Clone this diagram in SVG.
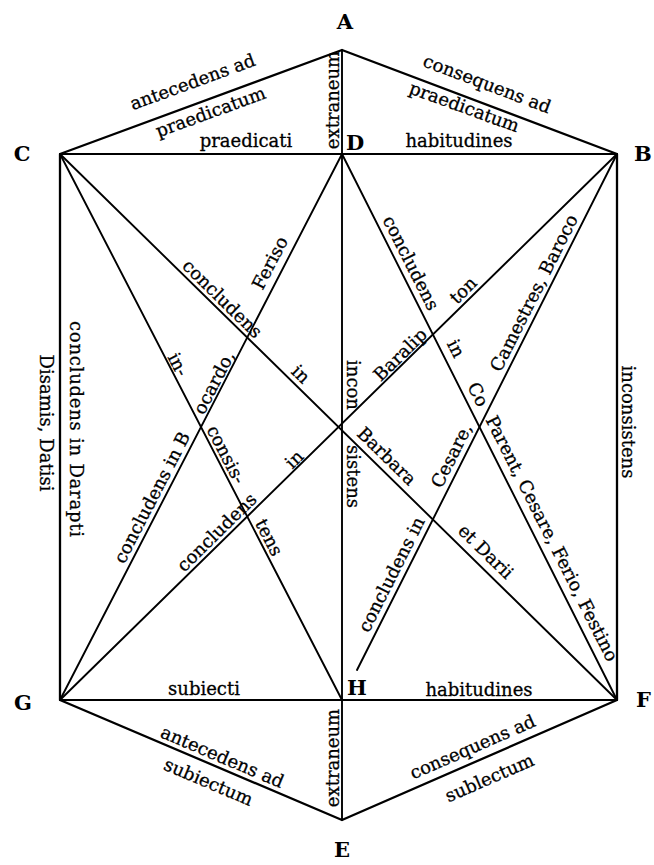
<svg xmlns="http://www.w3.org/2000/svg" width="654" height="865" viewBox="0 0 654 865">
<style>
.ln{stroke:#000;stroke-width:1.9;fill:none;stroke-linecap:round}
.ol{stroke:#000;stroke-width:2.3;fill:none;stroke-linejoin:round}
.t{font-family:"DejaVu Serif","Liberation Serif",serif;font-size:18px;fill:#000;stroke:#000;stroke-width:0.3;text-anchor:middle}
.v{font-family:"DejaVu Serif","Liberation Serif",serif;font-size:21px;font-weight:bold;fill:#000;text-anchor:middle}
.vs{font-family:"DejaVu Serif","Liberation Serif",serif;font-size:21px;font-weight:bold;fill:#000;text-anchor:start}
</style>
<rect width="654" height="865" fill="#fff"/>
<g id="connectors">
<path class="ol" d="M60,154 L342,50 L617,154 L617,700 L342,820 L60,700 Z"/>
<line class="ln" x1="60" y1="154" x2="617" y2="154"/>
<line class="ln" x1="60" y1="700" x2="617" y2="700"/>
<line class="ln" x1="342" y1="50" x2="342" y2="154"/>
<line class="ln" x1="342" y1="700" x2="342" y2="820"/>
<line class="ln" x1="342" y1="154" x2="342" y2="700"/>
<line class="ln" x1="60" y1="154" x2="617" y2="700"/>
<line class="ln" x1="617" y1="154" x2="60" y2="700"/>
<line class="ln" x1="60" y1="154" x2="342" y2="700"/>
<line class="ln" x1="342" y1="154" x2="60" y2="700"/>
<line class="ln" x1="342" y1="154" x2="617" y2="700"/>
<line class="ln" x1="617" y1="154" x2="357" y2="670"/>
</g>
<g id="edge-labels">
<text class="t" transform="translate(194.7,87.7) rotate(-20)">antecedens ad</text>
<text class="t" transform="translate(212.7,117.7) rotate(-20)">praedicatum</text>
<text class="t" x="246" y="147">praedicati</text>
<text class="t" transform="translate(338.5,100) rotate(-90)">extraneum</text>
<text class="t" transform="translate(485,89.7) rotate(20.7)">consequens ad</text>
<text class="t" transform="translate(462.2,112.7) rotate(20)">praedicatum</text>
<text class="t" x="459" y="147">habitudines</text>
<text class="t" x="204" y="695">subiecti</text>
<text class="t" x="479" y="696">habitudines</text>
<text class="t" transform="translate(220,762.6) rotate(23)">antecedens ad</text>
<text class="t" transform="translate(206,787.6) rotate(23)">subiectum</text>
<text class="t" transform="translate(338.5,758) rotate(-90)">extraneum</text>
<text class="t" transform="translate(475,752.6) rotate(-23.6)">consequens ad</text>
<text class="t" transform="translate(492,783.6) rotate(-23.6)">sublectum</text>
<text class="t" transform="translate(70,429) rotate(90)" textLength="216" lengthAdjust="spacing">concludens in Darapti</text>
<text class="t" transform="translate(40,423) rotate(90)">Disamis, Datisi</text>
<text class="t" transform="translate(622,422) rotate(90)">inconsistens</text>
<text class="t" transform="translate(347,385) rotate(90)">incon</text>
<text class="t" transform="translate(347,476.5) rotate(90)">sistens</text>
<text class="t" transform="translate(172.6,367.3) rotate(62.68)">in-</text>
<text class="t" transform="translate(220.6,457.3) rotate(62.68)">consis-</text>
<text class="t" transform="translate(263.6,540.3) rotate(62.68)">tens</text>
<text class="t" transform="translate(157.4,500.3) rotate(-62.68)">concludens in B</text>
<text class="t" transform="translate(219.4,385.3) rotate(-62.68)">ocardo,</text>
<text class="t" transform="translate(275.4,265.8) rotate(-62.68)">Feriso</text>
<text class="t" transform="translate(218,303.1) rotate(44.43)">concludens</text>
<text class="t" transform="translate(296.5,378.6) rotate(44.43)">in</text>
<text class="t" transform="translate(382.5,460.6) rotate(44.43)">Barbara</text>
<text class="t" transform="translate(481.5,556) rotate(44.43)">et Darii</text>
<text class="t" transform="translate(221,536.6) rotate(-44.43)">concludens</text>
<text class="t" transform="translate(298.5,463.6) rotate(-44.43)">in</text>
<text class="t" transform="translate(404.5,359) rotate(-44.43)">Baralip</text>
<text class="t" transform="translate(467.5,294.6) rotate(-44.43)">ton</text>
<text class="t" transform="translate(405.5,265.75) rotate(63.27)">concludens</text>
<text class="t" transform="translate(450.5,351.25) rotate(63.27)">in</text>
<text class="t" transform="translate(472.5,397.25) rotate(63.27)">Co</text>
<text class="t" transform="translate(546.5,541.25) rotate(63.27)">Parent, Cesare, Ferio, Festino</text>
<text class="t" transform="translate(397,577.25) rotate(-63.27)">concludens in</text>
<text class="t" transform="translate(457,458.25) rotate(-63.27)">Cesare,</text>
<text class="t" transform="translate(539.5,295.75) rotate(-63.27)">Camestres, Baroco</text>
</g>
<g id="node-A"><text class="v" x="345" y="29">A</text></g>
<g id="node-B"><text class="vs" x="634" y="161">B</text></g>
<g id="node-C"><text class="v" x="22" y="161">C</text></g>
<g id="node-D"><text class="v" x="355" y="150">D</text></g>
<g id="node-E"><text class="v" x="342" y="857">E</text></g>
<g id="node-F"><text class="vs" x="636" y="707">F</text></g>
<g id="node-G"><text class="v" x="23" y="710">G</text></g>
<g id="node-H"><text class="v" x="357" y="695">H</text></g>
</svg>
